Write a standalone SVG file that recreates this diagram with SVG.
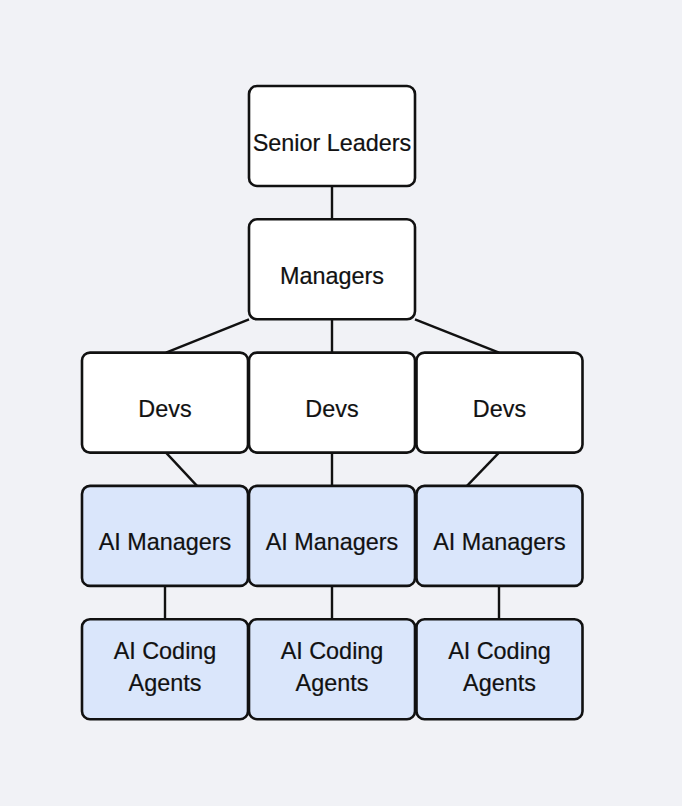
<svg xmlns="http://www.w3.org/2000/svg" width="682" height="806" viewBox="0 0 682 806">
<style>
.bg{fill:#f1f2f6}
.box{stroke:#111;stroke-width:2.6}
.h{fill:#ffffff}
.ai{fill:#dae6fb}
.edge{stroke:#111;stroke-width:2.4;fill:none}
text{font-family:"Liberation Sans",Arial,sans-serif;font-size:23.4px;fill:#111;stroke:#111;stroke-width:0.2;text-anchor:middle}
</style>
<rect class="bg" x="0" y="0" width="682" height="806"/>
<g id="connectors">
<line class="edge" x1="332" y1="186" x2="332" y2="219.3"/>
<line class="edge" x1="332" y1="319.3" x2="332" y2="352.6"/>
<line class="edge" x1="249" y1="319.3" x2="166" y2="352.6"/>
<line class="edge" x1="415" y1="319.3" x2="499" y2="352.6"/>
<line class="edge" x1="166" y1="452.6" x2="197" y2="485.9"/>
<line class="edge" x1="332" y1="452.6" x2="332" y2="485.9"/>
<line class="edge" x1="499" y1="452.6" x2="467" y2="485.9"/>
<line class="edge" x1="165" y1="585.9" x2="165" y2="619.2"/>
<line class="edge" x1="332" y1="585.9" x2="332" y2="619.2"/>
<line class="edge" x1="499" y1="585.9" x2="499" y2="619.2"/>
</g>
<g id="senior-leaders"><rect class="box h" x="249" y="86" width="166" height="100" rx="8"/><text x="332" y="150.5">Senior Leaders</text></g>
<g id="managers"><rect class="box h" x="249" y="219.3" width="166" height="100" rx="8"/><text x="332" y="283.8">Managers</text></g>
<g id="devs-1"><rect class="box h" x="82" y="352.6" width="166" height="100" rx="8"/><text x="165" y="417">Devs</text></g>
<g id="devs-2"><rect class="box h" x="249" y="352.6" width="166" height="100" rx="8"/><text x="332" y="417">Devs</text></g>
<g id="devs-3"><rect class="box h" x="416.5" y="352.6" width="166" height="100" rx="8"/><text x="499.5" y="417">Devs</text></g>
<g id="ai-managers-1"><rect class="box ai" x="82" y="485.9" width="166" height="100" rx="8"/><text x="165" y="550.4">AI Managers</text></g>
<g id="ai-managers-2"><rect class="box ai" x="249" y="485.9" width="166" height="100" rx="8"/><text x="332" y="550.4">AI Managers</text></g>
<g id="ai-managers-3"><rect class="box ai" x="416.5" y="485.9" width="166" height="100" rx="8"/><text x="499.5" y="550.4">AI Managers</text></g>
<g id="ai-coding-agents-1"><rect class="box ai" x="82" y="619.2" width="166" height="100" rx="8"/><text x="165" y="658.7">AI Coding</text><text x="165" y="691.2">Agents</text></g>
<g id="ai-coding-agents-2"><rect class="box ai" x="249" y="619.2" width="166" height="100" rx="8"/><text x="332" y="658.7">AI Coding</text><text x="332" y="691.2">Agents</text></g>
<g id="ai-coding-agents-3"><rect class="box ai" x="416.5" y="619.2" width="166" height="100" rx="8"/><text x="499.5" y="658.7">AI Coding</text><text x="499.5" y="691.2">Agents</text></g>
</svg>
